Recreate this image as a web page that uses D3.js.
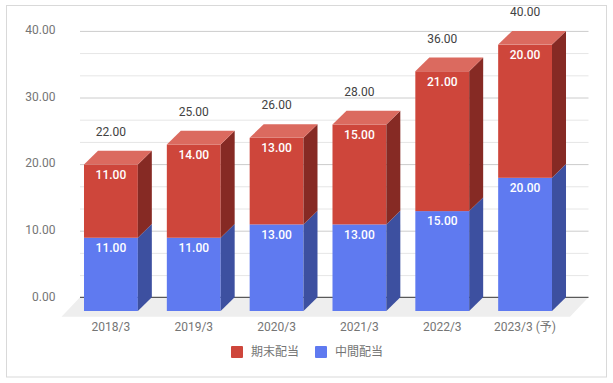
<!DOCTYPE html>
<html>
<head>
<meta charset="utf-8">
<script src="https://cdn.jsdelivr.net/npm/d3@7"></script>
<style>
html, body { margin: 0; padding: 0; background: #fff; }
svg { display: block; }
text { font-family: Roboto, "Noto Sans CJK JP", sans-serif; }
.grid-axis .domain, .x-axis .domain, .x-axis line { display: none; }
.major line { stroke: #cccccc; }
.minor line { stroke: #e6e6e6; }
.tick-label text, .x-axis text { fill: #757575; font-size: 12px; }
</style>
</head>
<body>
<div class="container"></div>
<script>
const WIDTH = 613;
const HEIGHT = 383;

const DEPTH_X = 14;
const DEPTH_Y = 13.7;

var categories = ["2018/3", "2019/3", "2020/3", "2021/3", "2022/3", "2023/3 (予)"];
var interimValues = [11, 11, 13, 13, 15, 20];
var finalValues = [11, 14, 13, 15, 21, 20];
var totalValues = [22, 25, 26, 28, 36, 40];
var majorTicks = [0, 10, 20, 30, 40];
var minorTicks = [3.33, 6.67, 13.33, 16.67, 23.33, 26.67, 33.33, 36.67];
var legendLabels = ["期末配当", "中間配当"];

var redColors = {front: "#ce463b", side: "#862a24", top: "#db6a5f"};
var blueColors = {front: "#5f7af0", side: "#3d50a0"};

var translate = function(x, y){
	return "translate("+x+","+y+")";
};

var fmt = d3.format(".2f");

var svg = d3.select('.container').append('svg')
	.attr('width', WIDTH)
	.attr('height', HEIGHT);

// outer frame
svg.append('rect')
	.attr('x', 6.5).attr('y', 5.5)
	.attr('width', 600).attr('height', 371.5)
	.attr('fill', '#fff')
	.attr('stroke', '#d9d9d9');

// back wall scale, bars stand DEPTH further to the front
var yScale = d3.scaleLinear().domain([0, 40]).range([297.3, 30.9]);
var xScale = d3.scaleBand()
	.domain(categories)
	.range([69.5, 566.5])
	.paddingInner(0.35)
	.paddingOuter(0.175);

var yFront = function(v){ return yScale(v) + DEPTH_Y; };

var WALL_LEFT = 80;
var WALL_RIGHT = 588.5;

// floor
var floorY = yScale(0);
svg.append('path')
	.attr('d', d3.line()([[WALL_LEFT, floorY], [WALL_RIGHT, floorY], [570, floorY + 19.5], [61.5, floorY + 19.5]]))
	.attr('fill', '#eeeeee');

// grid lines
var gridSize = WALL_RIGHT - WALL_LEFT;
svg.append('g').attr('class', 'grid-axis minor')
	.attr('transform', translate(WALL_RIGHT, 0))
	.call(d3.axisLeft(yScale).tickValues(minorTicks).tickSize(gridSize).tickFormat(""));
svg.append('g').attr('class', 'grid-axis major')
	.attr('transform', translate(WALL_RIGHT, 0))
	.call(d3.axisLeft(yScale).tickValues(majorTicks.slice(1)).tickSize(gridSize).tickFormat(""));

svg.append('g').attr('class', 'grid-axis tick-label')
	.attr('transform', translate(55.5, -1))
	.call(d3.axisLeft(yScale).tickValues(majorTicks).tickSize(0).tickPadding(0).tickFormat(fmt))
	.selectAll('line').remove();

svg.append('line')
	.attr('x1', WALL_LEFT).attr('x2', WALL_RIGHT)
	.attr('y1', floorY).attr('y2', floorY)
	.attr('stroke', '#333');

// x labels
svg.append('g').attr('class', 'x-axis')
	.attr('transform', translate(0, 322))
	.call(d3.axisBottom(xScale).tickSize(0).tickPadding(0));

var drawSegment = function(g, name, start, end, colors){
	var x0 = xScale(name);
	var x1 = x0 + xScale.bandwidth();
	var yBottom = yFront(start);
	var yTop = yFront(end);

	g.append('rect')
		.attr('x', x0).attr('y', yTop)
		.attr('width', x1 - x0).attr('height', yBottom - yTop)
		.attr('fill', colors.front);

	g.append('path')
		.attr('d', d3.line()([[x1, yBottom], [x1 + DEPTH_X, yBottom - DEPTH_Y], [x1 + DEPTH_X, yTop - DEPTH_Y], [x1, yTop]]))
		.attr('fill', colors.side);

	if (colors.top) {
		g.append('path')
			.attr('d', d3.line()([[x0, yTop], [x1, yTop], [x1 + DEPTH_X, yTop - DEPTH_Y], [x0 + DEPTH_X, yTop - DEPTH_Y]]))
			.attr('fill', colors.top);
	}
};

var segmentLabel = function(g, name, top, value){
	g.append('text')
		.attr('x', xScale(name) + xScale.bandwidth() / 2)
		.attr('y', yFront(top) + 10)
		.attr('dy', '0.36em')
		.attr('text-anchor', 'middle')
		.attr('fill', '#fff')
		.attr('font-size', 12)
		.attr('font-weight', 500)
		.text(fmt(value));
};

categories.forEach(function(name, i){
	var g = svg.append('g');
	var mid = interimValues[i];
	var top = mid + finalValues[i];
	drawSegment(g, name, 0, mid, blueColors);
	drawSegment(g, name, mid, top, redColors);
	segmentLabel(g, name, mid, interimValues[i]);
	segmentLabel(g, name, top, finalValues[i]);

	g.append('text')
		.attr('x', xScale(name) + xScale.bandwidth() / 2)
		.attr('y', yFront(top) - 33)
		.attr('dy', '0.36em')
		.attr('text-anchor', 'middle')
		.attr('fill', '#424242')
		.attr('font-size', 12)
		.text(fmt(totalValues[i]));
});

// legend
var legendColors = [redColors.front, blueColors.front];
var legendX = [231, 315];
var legend = svg.selectAll('.legend-item')
	.data(legendLabels)
	.enter().append('g')
	.attr('class', 'legend-item')
	.attr('transform', function(d, i){ return translate(legendX[i], 346); });

legend.append('rect')
	.attr('width', 12).attr('height', 12)
	.attr('rx', 1)
	.attr('fill', function(d, i){ return legendColors[i]; });

legend.append('text')
	.attr('x', 20).attr('y', 6)
	.attr('dy', '0.36em')
	.attr('fill', '#757575')
	.attr('font-size', 12)
	.text(function(d){ return d; });
</script>
</body>
</html>
